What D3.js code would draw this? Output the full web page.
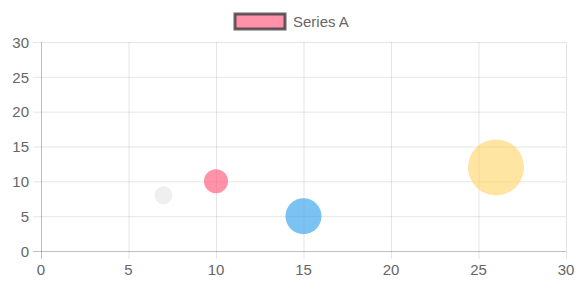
<!DOCTYPE html>
<html><head><meta charset="utf-8">
<script src="https://cdn.jsdelivr.net/npm/d3@7"></script>
<style>html,body{margin:0;padding:0;background:#fff;}svg{display:block;font-family:"Liberation Sans",Arial,sans-serif;}</style>
</head><body>
<svg id="c" width="586" height="293"></svg>
<script>
const seriesName = "Series A";
const xValues = [7, 10, 15, 26];
const yValues = [8, 10, 5, 12];
const rValues = [9, 12, 18, 28];
const colors = ["rgba(201,203,207,0.3)", "rgba(255,99,132,0.7)", "rgba(54,162,235,0.65)", "rgba(255,205,86,0.55)"];
const xTicks = [0, 5, 10, 15, 20, 25, 30];
const yTicks = [0, 5, 10, 15, 20, 25, 30];

const svg = d3.select("#c");
const m = {l: 41, r: 566, t: 42, b: 251};
const x = d3.scaleLinear().domain([0, 30]).range([m.l, m.r]);
const y = d3.scaleLinear().domain([0, 30]).range([m.b, m.t]);
const rs = d3.scaleLinear().domain([0, 1]).range([0, 1]);

// grid
const g = svg.append("g");
g.selectAll("line.vx").data(xTicks).join("line")
  .attr("x1", d => x(d) + 0.5).attr("x2", d => x(d) + 0.5)
  .attr("y1", m.t).attr("y2", m.b + 8)
  .attr("stroke", d => d === 0 ? "rgba(0,0,0,0.25)" : "rgba(0,0,0,0.1)").attr("stroke-width", 1);
g.selectAll("line.hy").data(yTicks).join("line")
  .attr("y1", d => y(d) + 0.5).attr("y2", d => y(d) + 0.5)
  .attr("x1", m.l - 8).attr("x2", m.r)
  .attr("stroke", d => d === 0 ? "rgba(0,0,0,0.25)" : "rgba(0,0,0,0.1)").attr("stroke-width", 1);

// tick labels
svg.append("g").selectAll("text").data(yTicks).join("text")
  .attr("x", m.l - 12).attr("y", d => y(d) + 0.5).attr("dy", "0.35em")
  .attr("text-anchor", "end").attr("font-size", 15).attr("fill", "#666").text(d => d);
svg.append("g").selectAll("text").data(xTicks).join("text")
  .attr("x", d => x(d)).attr("y", 270).attr("dy", "0.35em")
  .attr("text-anchor", "middle").attr("font-size", 15).attr("fill", "#666").text(d => d);

// bubbles
const pts = xValues.map((v, i) => ({x: v, y: yValues[i], r: rValues[i], c: colors[i]}));
svg.append("g").selectAll("circle").data(pts).join("circle")
  .attr("cx", d => x(d.x)).attr("cy", d => y(d.y)).attr("r", d => rs(d.r))
  .attr("fill", d => d.c);

// legend
const lg = svg.append("g");
lg.append("rect").attr("x", 235).attr("y", 14).attr("width", 50).attr("height", 15)
  .attr("fill", "rgba(255,99,132,0.7)").attr("stroke", "rgba(60,60,60,0.8)").attr("stroke-width", 3);
lg.append("text").attr("x", 293).attr("y", 21.5).attr("dy", "0.35em")
  .attr("font-size", 15).attr("fill", "#666").text(seriesName);
</script>
</body></html>
